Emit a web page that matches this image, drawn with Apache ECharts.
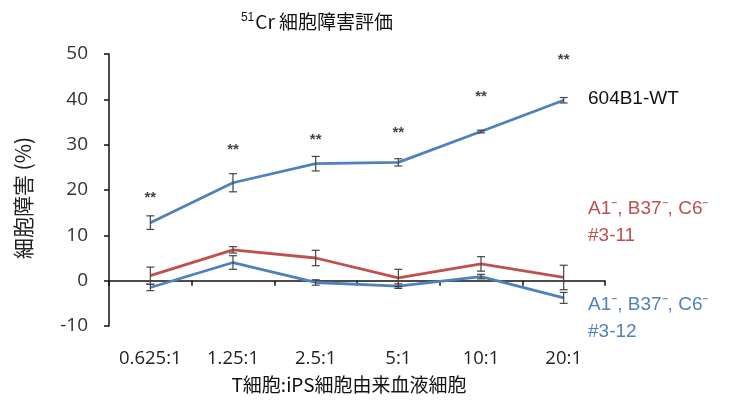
<!DOCTYPE html>
<html><head><meta charset="utf-8">
<script src="https://cdn.jsdelivr.net/npm/echarts@6/dist/echarts.min.js"></script>
<style>html,body{margin:0;padding:0;background:#fff}#c{width:753px;height:416px}</style>
</head><body><div id="c"></div>
<script>
var categories = ['0.625:1', '1.25:1', '2.5:1', '5:1', '10:1', '20:1'];
var wtValues = [12.8, 21.6, 25.8, 26.1, 32.9, 39.8];
var wtErr = [1.5, 2.0, 1.6, 0.8, 0.3, 0.6];
var r11Values = [1.1, 6.8, 5.0, 0.6, 3.7, 0.7];
var r11Err = [1.9, 0.7, 1.7, 1.9, 1.6, 2.7];
var b12Values = [-1.5, 4.0, -0.4, -1.2, 0.9, -3.8];
var b12Err = [0.7, 1.5, 0.6, 0.5, 0.5, 1.2];
var starY = [18.9, 29.5, 31.7, 33.3, 41.2, 49.3];
var starText = ['**', '**', '**', '**', '**', '**'];
var yTicks = [-10, 0, 10, 20, 30, 40, 50];

var BLUE = '#4F81BD', RED = '#C0504D';
var JP = '"Noto Sans CJK JP", "Liberation Sans", sans-serif';
var NUM = '"Open Sans", "Liberation Sans", sans-serif';

function errSeries(vals, errs, color) {
  return {
    type: 'custom', z: 5,
    data: vals.map(function (v, i) { return [i, v - errs[i], v + errs[i]]; }),
    renderItem: function (params, api) {
      var lo = api.coord([api.value(0), api.value(1)]);
      var hi = api.coord([api.value(0), api.value(2)]);
      var w = 4;
      var st = { stroke: color, lineWidth: 1.2 };
      return { type: 'group', children: [
        { type: 'line', shape: { x1: lo[0], y1: lo[1], x2: hi[0], y2: hi[1] }, style: st },
        { type: 'line', shape: { x1: lo[0] - w, y1: lo[1], x2: lo[0] + w, y2: lo[1] }, style: st },
        { type: 'line', shape: { x1: hi[0] - w, y1: hi[1], x2: hi[0] + w, y2: hi[1] }, style: st }
      ]};
    }
  };
}

var chart = echarts.init(document.getElementById('c'), null, { renderer: 'canvas' });
chart.setOption({
  animation: false,
  grid: { left: 109, right: 148, top: 54, bottom: 90 },
  xAxis: [{
    type: 'category', data: categories, boundaryGap: true,
    axisLine: { onZero: true, lineStyle: { color: '#111', width: 1.5 } },
    axisTick: { show: true, inside: false, length: 5, lineStyle: { color: '#111', width: 1.5 } },
    axisLabel: { show: false }
  }, {
    type: 'category', data: categories, boundaryGap: true, position: 'bottom',
    axisLine: { show: false, onZero: false }, axisTick: { show: false },
    axisLabel: { interval: 0, hideOverlap: false, margin: 23, fontSize: 18.5, color: '#222', fontFamily: NUM }
  }],
  yAxis: {
    type: 'value', min: -10, max: 50, interval: 10,
    splitLine: { show: false },
    axisLine: { show: true, lineStyle: { color: '#111', width: 1.5 } },
    axisTick: { show: true, length: 5, lineStyle: { color: '#111', width: 1.5 } },
    axisLabel: { fontSize: 19, color: '#333', margin: 21, fontFamily: NUM,
      formatter: function (v) { return yTicks.indexOf(v) >= 0 ? String(v) : ''; } }
  },
  series: [
    { type: 'line', data: wtValues, symbol: 'none', lineStyle: { color: BLUE, width: 2.8 }, z: 3 },
    { type: 'line', data: r11Values, symbol: 'none', lineStyle: { color: RED, width: 2.8 }, z: 3 },
    { type: 'line', data: b12Values, symbol: 'none', lineStyle: { color: BLUE, width: 2.8 }, z: 3 },
    errSeries(wtValues, wtErr, '#444'),
    errSeries(r11Values, r11Err, '#444'),
    errSeries(b12Values, b12Err, '#444'),
    { type: 'scatter', symbolSize: 0, data: starY.map(function (v, i) { return [i, v]; }),
      label: { show: true, position: 'inside', formatter: function (p) { return starText[p.dataIndex]; },
        fontSize: 15, fontWeight: 'bold', color: '#111', fontFamily: '"Liberation Sans", sans-serif', offset: [0, 3] } }
  ],
  graphic: [
    { type: 'text', x: 317, y: 22, style: { text: '{s|51}{m|Cr 細胞障害評価}', align: 'center', verticalAlign: 'middle', rich: {
        s: { fontSize: 12, verticalAlign: 'top', padding: [0, 1, 8, 0], fontFamily: '"Liberation Sans", sans-serif', fill: '#111' },
        m: { fontSize: 19, fontFamily: JP, fill: '#111' } } } },
    { type: 'text', rotation: Math.PI / 2, x: 23, y: 198, style: { text: '細胞障害 (%)', font: '21px ' + JP, fill: '#222', align: 'center', verticalAlign: 'middle' } },
    { type: 'text', x: 349, y: 385, style: { text: 'T細胞:iPS細胞由来血液細胞', font: '19px ' + JP, fill: '#111', align: 'center', verticalAlign: 'middle' } },
    { type: 'text', x: 588, y: 99, style: { text: '604B1-WT', font: '19px "Liberation Sans", sans-serif', fill: '#111', verticalAlign: 'middle' } },
    { type: 'text', x: 588, y: 209, style: { text: 'A1⁻, B37⁻, C6⁻', font: '19px "Liberation Sans", sans-serif', fill: RED, verticalAlign: 'middle' } },
    { type: 'text', x: 588, y: 236, style: { text: '#3-11', font: '19px "Liberation Sans", sans-serif', fill: RED, verticalAlign: 'middle' } },
    { type: 'text', x: 588, y: 305, style: { text: 'A1⁻, B37⁻, C6⁻', font: '19px "Liberation Sans", sans-serif', fill: BLUE, verticalAlign: 'middle' } },
    { type: 'text', x: 588, y: 332, style: { text: '#3-12', font: '19px "Liberation Sans", sans-serif', fill: BLUE, verticalAlign: 'middle' } }
  ]
});
</script></body></html>
